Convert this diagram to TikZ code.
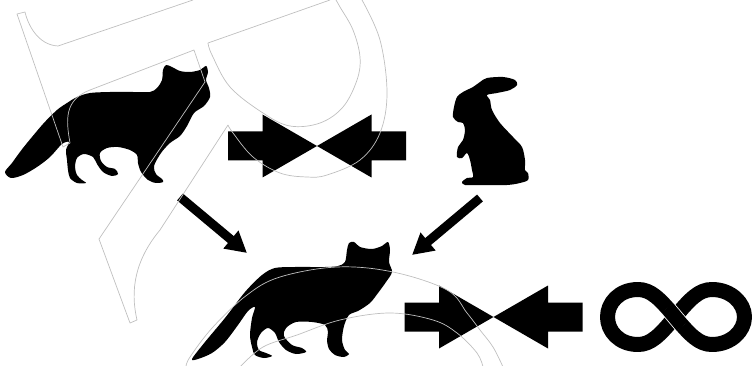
\documentclass[tikz,border=0pt]{standalone}
\usetikzlibrary{arrows.meta}
\begin{document}
\begin{tikzpicture}[x=1pt,y=-1pt,
  sil/.style={fill=black,draw=none},
  ghost/.style={draw=black!25,line width=0.7pt,line join=round},
  flow/.style={line width=9pt,-{Triangle[length=21pt,width=22pt]}},
  meet/.pic={
    \fill (-89,-14.5) -- (-54.5,-14.5) -- (-54.5,-31.5) -- (0,0)
          -- (-54.5,31.5) -- (-54.5,14.5) -- (-89,14.5) -- cycle;
    \fill (89,-14.5) -- (54.5,-14.5) -- (54.5,-31.5) -- (0,0)
          -- (54.5,31.5) -- (54.5,14.5) -- (89,14.5) -- cycle;
  }]
\useasboundingbox (0,0) rectangle (752,366);
\clip (0,0) rectangle (752,366);

% ---------- silhouettes ----------
% fox, upper left
\node[inner sep=0] (foxA) at (108,124) {};
\fill[sil] plot[smooth cycle,tension=0.5] coordinates {
  (5,172) (12,163) (23,148) (43,124) (57,110) (67,103)
  (77,97) (90,93) (110,92) (133,92) (150,92)
  (157,88) (162,80) (163,70) (166,65) (172,67)
  (180,71) (190,72) (200,70) (206,66) (208,72)
  (206,80) (209,88) (210,97) (204,106) (194,113)
  (187,126) (180,136) (170,143)
  (161,153) (154,166) (156,174) (162,179) (163,182) (156,183) (148,180)
  (141,172) (138,163) (137,155)
  (130,150) (118,147) (107,148)
  (100,153) (101,161) (107,167) (115,169) (118,174) (112,176) (103,172) (97,164) (93,157)
  (84,154) (77,158) (75,167) (77,175) (82,180) (86,183) (77,183) (70,178) (68,170) (67,160) (66,150) (69,142)
  (62,144) (50,157) (37,167) (23,175) (11,178)};

% rabbit
\node[inner sep=0] (hare) at (490,132) {};
\fill[sil] plot[smooth cycle,tension=0.5] coordinates {
  (487,78) (503,77) (515,80) (517,85) (510,90) (497,93) (487,95)
  (490,100) (492,110) (500,123) (513,137) (522,147) (525,160) (525,170)
  (528,173) (528,180) (520,183) (507,185) (480,185) (465,185) (462,182)
  (467,178) (473,177) (472,170) (470,160)
  (467,153) (462,158) (457,157) (458,147) (463,140) (465,130) (463,123)
  (458,122) (453,117) (454,107) (457,97) (463,92) (473,87) (480,82)};

% fox, lower middle
\node[inner sep=0] (foxB) at (292,300) {};
\fill[sil] plot[smooth cycle,tension=0.5] coordinates {
  (192,359) (205,342) (225,318) (245,292) (262,275) (275,268)
  (295,267) (325,267) (338,266)
  (345,262) (347,250) (349,243) (354,242) (360,247)
  (372,249) (382,246) (388,242) (390,250)
  (389,262) (392,272) (386,282)
  (378,293) (370,303) (358,311) (349,315)
  (344,326) (342,340) (345,350) (349,354) (344,357) (335,355)
  (329,349) (327,340) (328,332) (325,325)
  (312,322) (296,322)
  (286,328) (284,336) (292,345) (302,348) (306,352) (296,354) (286,350) (279,342) (275,333)
  (268,328) (261,333) (257,342) (259,350) (266,353) (272,356) (264,358) (255,355) (252,347) (250,335) (252,318) (255,307)
  (248,311) (238,325) (225,342) (212,353) (198,359)};

% ---------- symbols ----------
\pic at (317,146) {meet};
\pic at (493.5,317) {meet};

% infinity sign: one closed stroke, then the over-strand at the crossing
\draw[line width=15pt,line join=round]
  (675,317) .. controls (690,299) and (699,289.5) .. (712,289.5)
  .. controls (731,289.5) and (744.5,303) .. (744.5,317)
  .. controls (744.5,331) and (731,344.5) .. (712,344.5)
  .. controls (699,344.5) and (690,335) .. (675,317)
  .. controls (660,299) and (651,289.5) .. (638,289.5)
  .. controls (619,289.5) and (607.5,303) .. (607.5,317)
  .. controls (607.5,331) and (619,344.5) .. (638,344.5)
  .. controls (651,344.5) and (660,335) .. (675,317) -- cycle;
\coordinate (c1) at (667.6,308.2);
\coordinate (c2) at (682.4,325.8);
\draw[white,line width=16.6pt] (c1) -- (c2);
\draw[black,line width=15pt,shorten <=-0.5pt,shorten >=-0.5pt] (c1) -- (c2);

% ---------- arrows ----------
\coordinate (a1) at (180,197);
\coordinate (b1) at (247,253);
\coordinate (a2) at (480,198);
\coordinate (b2) at (412,255);
\draw[flow] (a1) -- (b1);
\draw[flow] (a2) -- (b2);

% ---------- faint letter outlines ----------
\draw[ghost] (193,0) -- (58,46) .. controls (38,45) and (28,25) .. (25,12)
  -- (17,14) -- (63,147) -- (70,143) .. controls (66,120) and (64,100) .. (90,90)
  -- (194,50) -- (205,82) -- (99,239) -- (130,323) -- (137,320)
  .. controls (130,290) and (135,260) .. (160,230) -- (228,125);
\draw[ghost] plot[smooth,tension=0.6] coordinates {
  (228,125) (233,133) (253,157) (280,173) (307,177) (327,175) (360,160)
  (380,133) (387,93) (380,40) (362,0)};
\draw[ghost] (330,0) -- (208,43);
\draw[ghost] plot[smooth,tension=0.6] coordinates {
  (208,43) (212,55) (230,87) (263,113) (290,126) (320,123) (343,107)
  (357,80) (360,57) (353,30) (340,7) (336,0)};
\draw[ghost] plot[smooth,tension=0.6] coordinates {
  (186,367) (190,357) (213,327) (247,295) (280,277) (337,267) (393,272)
  (447,290) (467,313) (480,330) (493,347) (503,367)};
\draw[ghost] plot[smooth,tension=0.6] coordinates {
  (240,367) (263,347) (297,335) (340,320) (390,313) (433,320) (457,333)
  (477,353) (483,367)};
\end{tikzpicture}
\end{document}
